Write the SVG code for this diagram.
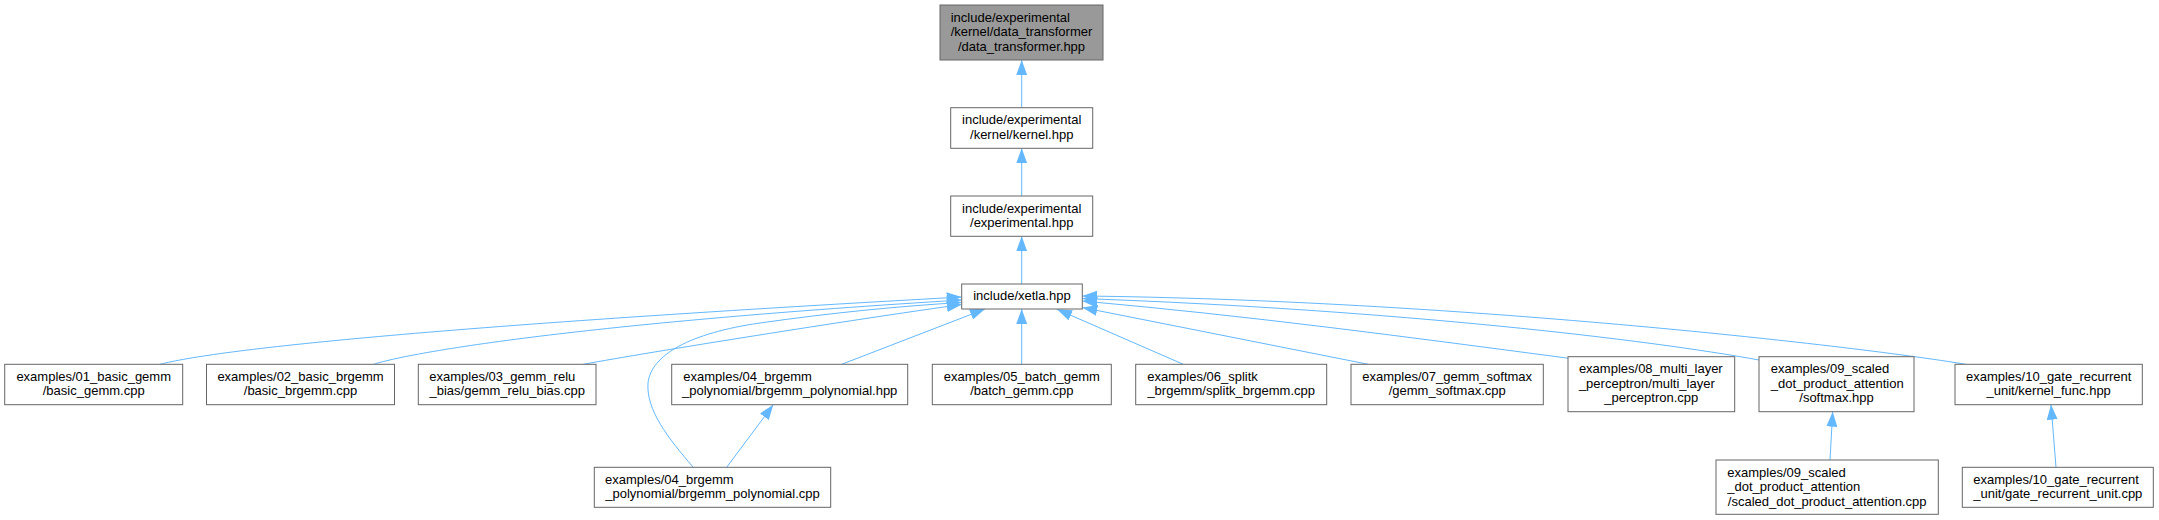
<svg xmlns="http://www.w3.org/2000/svg" width="2159" height="520" viewBox="0 0 2159 520">
<style>
.n rect{fill:#ffffff;stroke:#666666;stroke-width:1}
.n.root rect{fill:#999999}
.n text{font-family:"Liberation Sans",Arial,Helvetica,sans-serif;font-size:13px;fill:#000000}
.c{text-anchor:middle}
.l{text-anchor:start}
.e path{fill:none;stroke:#63b8ff;stroke-width:1;marker-end:url(#ah)}
</style>
<defs>
<marker id="ah" markerUnits="userSpaceOnUse" viewBox="0 0 15 11" markerWidth="15" markerHeight="11" refX="15" refY="5.5" orient="auto">
<path d="M0,0 L15,5.5 L0,11 Z" fill="#63b8ff"/>
</marker>
</defs>
<rect x="0" y="0" width="2159" height="520" fill="#ffffff"/>
<g id="edges" class="e">
<path d="M1021.7,107.7 L1021.7,60"/>
<path d="M1021.7,196 L1021.7,148.3"/>
<path d="M1021.7,284 L1021.7,236.3"/>
<path d="M160,364.3 C215,350 420,327 961.7,297"/>
<path d="M373.3,364.3 C420,350 600,322 961.7,300"/>
<path d="M583.3,364.3 C650,352 850,320 961.7,304.5"/>
<path d="M693.3,467.3 C668,438 646,410 648,383 C651,355 690,333 760,323 C830,313 900,306 961.7,302.5"/>
<path d="M841.7,364.3 L985,309"/>
<path d="M1021.7,364.3 L1021.7,309"/>
<path d="M1183.3,364.3 L1057,309.3"/>
<path d="M1368.3,364.3 L1082.3,307.5"/>
<path d="M1568,358.2 C1400,336 1250,316 1082.3,301"/>
<path d="M1759,360 C1650,340 1400,310 1082.3,298.5"/>
<path d="M1965.7,364.3 C1850,345 1450,300 1082.3,296"/>
<path d="M726.7,467.3 L773.3,404.7"/>
<path d="M1830,460 L1832.7,411.7"/>
<path d="M2056,467.3 L2051,404.7"/>
</g>
<g id="node_root" class="n root">
<rect x="940" y="5" width="163" height="55"/>
<text class="l" x="950.7" y="21.5">include/experimental</text>
<text class="l" x="950.7" y="36">/kernel/data_transformer</text>
<text class="c" x="1021.5" y="50.5">/data_transformer.hpp</text>
</g>
<g id="node_kernel" class="n">
<rect x="950.7" y="107.7" width="142" height="40.6"/>
<text class="c" x="1021.7" y="124.2">include/experimental</text>
<text class="c" x="1021.7" y="138.7">/kernel/kernel.hpp</text>
</g>
<g id="node_experimental" class="n">
<rect x="950.7" y="196" width="142" height="40.3"/>
<text class="c" x="1021.7" y="212.5">include/experimental</text>
<text class="c" x="1021.7" y="227">/experimental.hpp</text>
</g>
<g id="node_xetla" class="n">
<rect x="961.7" y="284" width="120.6" height="25"/>
<text class="c" x="1022" y="300">include/xetla.hpp</text>
</g>
<g id="node_01" class="n">
<rect x="4.7" y="364.3" width="178" height="40.4"/>
<text class="c" x="93.7" y="380.8">examples/01_basic_gemm</text>
<text class="c" x="93.7" y="395.3">/basic_gemm.cpp</text>
</g>
<g id="node_02" class="n">
<rect x="206.5" y="364.3" width="188" height="40.4"/>
<text class="c" x="300.5" y="380.8">examples/02_basic_brgemm</text>
<text class="c" x="300.5" y="395.3">/basic_brgemm.cpp</text>
</g>
<g id="node_03" class="n">
<rect x="418.3" y="364.3" width="177.7" height="40.4"/>
<text class="l" x="429.3" y="380.8">examples/03_gemm_relu</text>
<text class="c" x="507.2" y="395.3">_bias/gemm_relu_bias.cpp</text>
</g>
<g id="node_04hpp" class="n">
<rect x="671.7" y="364.3" width="236" height="40.4"/>
<text class="l" x="683.3" y="380.8">examples/04_brgemm</text>
<text class="c" x="789.7" y="395.3">_polynomial/brgemm_polynomial.hpp</text>
</g>
<g id="node_05" class="n">
<rect x="932.3" y="364.3" width="179" height="40.4"/>
<text class="c" x="1021.8" y="380.8">examples/05_batch_gemm</text>
<text class="c" x="1021.8" y="395.3">/batch_gemm.cpp</text>
</g>
<g id="node_06" class="n">
<rect x="1135.7" y="364.3" width="191" height="40.4"/>
<text class="l" x="1147.3" y="380.8">examples/06_splitk</text>
<text class="c" x="1231.2" y="395.3">_brgemm/splitk_brgemm.cpp</text>
</g>
<g id="node_07" class="n">
<rect x="1351" y="364.3" width="192.3" height="40.4"/>
<text class="c" x="1447.2" y="380.8">examples/07_gemm_softmax</text>
<text class="c" x="1447.2" y="395.3">/gemm_softmax.cpp</text>
</g>
<g id="node_08" class="n">
<rect x="1568" y="356.7" width="166.7" height="55"/>
<text class="l" x="1578.9" y="373.2">examples/08_multi_layer</text>
<text class="l" x="1578.9" y="387.7">_perceptron/multi_layer</text>
<text class="c" x="1651.3" y="402.2">_perceptron.cpp</text>
</g>
<g id="node_09softmax" class="n">
<rect x="1759" y="356.7" width="155" height="55"/>
<text class="l" x="1770.7" y="373.2">examples/09_scaled</text>
<text class="l" x="1770.7" y="387.7">_dot_product_attention</text>
<text class="c" x="1836.5" y="402.2">/softmax.hpp</text>
</g>
<g id="node_10kernel" class="n">
<rect x="1955" y="364.3" width="187.3" height="40.4"/>
<text class="c" x="2048.7" y="380.8">examples/10_gate_recurrent</text>
<text class="c" x="2048.7" y="395.3">_unit/kernel_func.hpp</text>
</g>
<g id="node_04cpp" class="n">
<rect x="594.3" y="467.3" width="236.4" height="40"/>
<text class="l" x="605" y="483.8">examples/04_brgemm</text>
<text class="c" x="712.5" y="498.3">_polynomial/brgemm_polynomial.cpp</text>
</g>
<g id="node_09cpp" class="n">
<rect x="1716" y="460" width="222.3" height="54.3"/>
<text class="l" x="1727.3" y="476.5">examples/09_scaled</text>
<text class="l" x="1727.3" y="491">_dot_product_attention</text>
<text class="c" x="1827.2" y="505.5">/scaled_dot_product_attention.cpp</text>
</g>
<g id="node_10cpp" class="n">
<rect x="1962.3" y="467.3" width="191" height="40"/>
<text class="l" x="1973.3" y="483.8">examples/10_gate_recurrent</text>
<text class="c" x="2057.8" y="498.3">_unit/gate_recurrent_unit.cpp</text>
</g>
</svg>
